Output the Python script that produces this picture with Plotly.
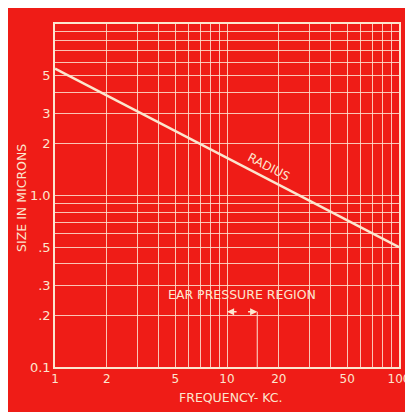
import numpy as np
import plotly.graph_objects as go

# Data
freq_kc = [1, 100]
radius_microns = [5.5, 0.5]
ear_region_kc = [10, 15]
ear_marker_y = 0.21

x_tickvals = [1, 2, 5, 10, 20, 50, 100]
x_ticktext = ["1", "2", "5", "10", "20", "50", "100"]
y_tickvals = [0.1, 0.2, 0.3, 0.5, 1, 2, 3, 5]
y_ticktext = ["0.1", ".2", ".3", ".5", "1.0", "2", "3", "5"]

RED = "#EF1C17"
CREAM = "#FCE6CF"
GRID = "rgba(253,226,210,0.85)"
FONT = "DejaVu Sans"

def minor_vals(lo_exp, hi_exp, major):
    vals = []
    for e in range(lo_exp, hi_exp):
        for m in range(1, 10):
            v = round(m * 10 ** e, 6)
            if not any(abs(v - mv) < 1e-9 for mv in major):
                vals.append(v)
    vals.append(10 ** hi_exp)
    return vals

fig = go.Figure()

fig.add_trace(go.Scatter(
    x=freq_kc, y=radius_microns, mode="lines",
    line=dict(color=CREAM, width=2.6), hoverinfo="skip", showlegend=False))

# second boundary line of the ear pressure region (15 kc)
fig.add_trace(go.Scatter(
    x=[ear_region_kc[1], ear_region_kc[1]], y=[0.1, ear_marker_y], mode="lines",
    line=dict(color=GRID, width=1.2), hoverinfo="skip", showlegend=False))

lx = np.log10
fig.add_annotation(
    x=lx(ear_region_kc[0]), y=lx(ear_marker_y), ax=lx(11.6), ay=lx(ear_marker_y),
    xref="x", yref="y", axref="x", ayref="y", text="", showarrow=True,
    arrowhead=2, arrowsize=1.1, arrowwidth=1.3, arrowcolor=CREAM)
fig.add_annotation(
    x=lx(ear_region_kc[1]), y=lx(ear_marker_y), ax=lx(13.0), ay=lx(ear_marker_y),
    xref="x", yref="y", axref="x", ayref="y", text="", showarrow=True,
    arrowhead=2, arrowsize=1.1, arrowwidth=1.3, arrowcolor=CREAM)

fig.add_annotation(
    x=lx(12.2), y=lx(0.264), xref="x", yref="y", text="EAR PRESSURE REGION",
    showarrow=False, font=dict(family=FONT, size=12.5, color=CREAM))
fig.add_annotation(
    x=lx(17.5), y=lx(1.46), xref="x", yref="y", text="RADIUS", textangle=27.4,
    showarrow=False, font=dict(family=FONT, size=12, color=CREAM))

fig.add_annotation(
    x=-0.096, y=0.493, xref="paper", yref="paper", text="SIZE IN MICRONS",
    xanchor="center", yanchor="middle",
    textangle=-90, showarrow=False, font=dict(family=FONT, size=12.5, color=CREAM))
fig.add_annotation(
    x=0.509, y=-0.0875, xref="paper", yref="paper", text="FREQUENCY- KC.",
    xanchor="center", yanchor="middle",
    showarrow=False, font=dict(family=FONT, size=12.5, color=CREAM))

axis_common = dict(
    type="log", showline=True, linecolor=CREAM, linewidth=1.5, mirror=True,
    showgrid=True, gridcolor=GRID, gridwidth=1, zeroline=False, ticks="",
    tickfont=dict(family=FONT, color=CREAM),
)

fig.update_xaxes(
    **axis_common, range=[0, 2], tickvals=x_tickvals, ticktext=x_ticktext,
    tickfont_size=12,
    minor=dict(tickvals=minor_vals(0, 2, x_tickvals), showgrid=True,
               gridcolor=GRID, gridwidth=1, ticks=""))
fig.update_yaxes(
    **axis_common, range=[-1, 1], tickvals=y_tickvals, ticktext=y_ticktext,
    tickfont_size=13,
    minor=dict(tickvals=minor_vals(-1, 1, y_tickvals), showgrid=True,
               gridcolor=GRID, gridwidth=1, ticks=""))

fig.update_layout(
    width=413, height=412, autosize=False,
    margin=dict(l=47, r=22, t=16, b=53),
    paper_bgcolor=RED, plot_bgcolor=RED,
    showlegend=False,
)

fig.write_html("out.html")
